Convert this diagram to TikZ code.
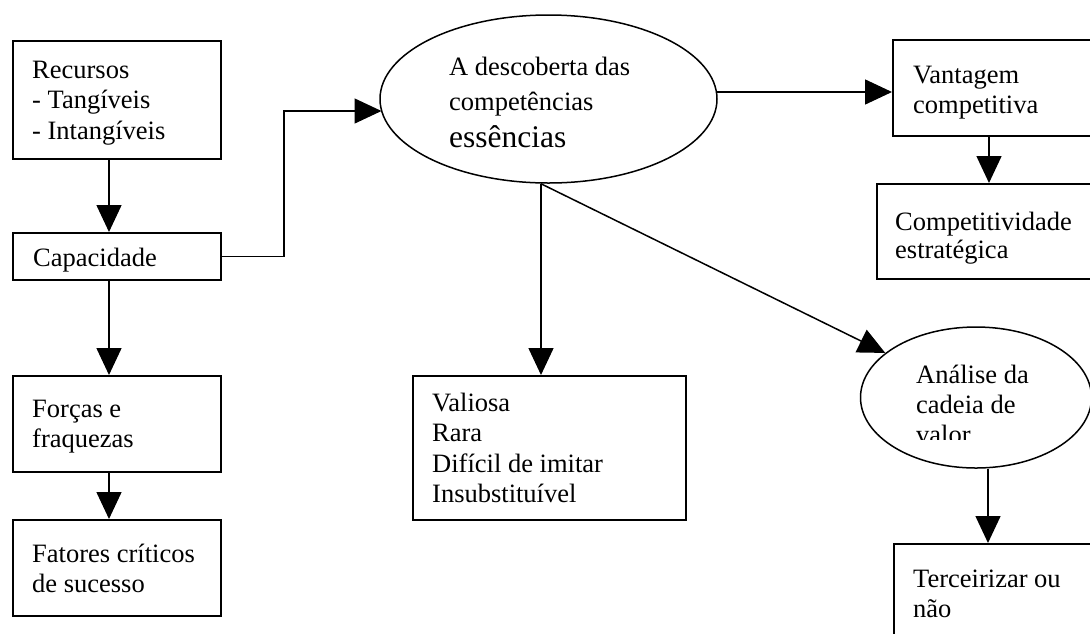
\documentclass[tikz,border=0pt]{standalone}
\usepackage{fontspec}
\setmainfont{Liberation Serif}
\usetikzlibrary{shapes.geometric,arrows.meta}
\newcommand\mylines[1]{\begin{tabular}[t]{@{}l@{}}#1\end{tabular}}
\begin{document}
\begin{tikzpicture}[x=1pt,y=-1pt,
  box/.style={draw,line width=1.5pt,rectangle,anchor=north west,inner sep=0pt},
  oval/.style={draw,line width=1.5pt,ellipse,inner sep=0pt},
  txt/.style={inner sep=0pt,anchor=base west,font=\fontsize{26.5}{30.5}\selectfont},
  arr/.style={line width=1.5pt,-{Triangle[length=27pt,width=25pt]}}]
\path[use as bounding box,clip] (0,0) rectangle (1090,633);
\fill[white] (0,0) rectangle (1090,633);
% boxes
\node[box,minimum width=208,minimum height=118] (rec) at (12,40) {};
\node[box,minimum width=208,minimum height=47] (cap) at (12,232) {};
\node[box,minimum width=208,minimum height=96] (forc) at (12,375) {};
\node[box,minimum width=208,minimum height=96] (fat) at (12,519) {};
\node[box,minimum width=273,minimum height=144] (val) at (412,375) {};
\node[box,minimum width=220,minimum height=96] (vant) at (892,39) {};
\node[box,minimum width=236,minimum height=95] (comp) at (876,183) {};
\node[box,minimum width=220,minimum height=160] (terc) at (893,543) {};
\node[oval,minimum width=337,minimum height=168] (ell1) at (548.5,99) {};
\node[oval,minimum width=231,minimum height=141] (ell2) at (976,397.5) {};
% texts
\node[txt] (trec) at (32,78) {\mylines{Recursos\\- Tangíveis\\- Intangíveis}};
\node[txt] (tcap) at (33,266) {Capacidade};
\node[txt] (tforc) at (32,417) {\mylines{Forças e\\fraquezas}};
\node[txt] (tfat) at (32,562) {\mylines{Fatores críticos\\de sucesso}};
\node[txt] (tval) at (432,411) {\mylines{Valiosa\\Rara\\Difícil de imitar\\Insubstituível}};
\node[txt] (tvant) at (913,83) {\mylines{Vantagem\\competitiva}};
\node[txt] (tcomp1) at (895,230) {Competitividade};
\node[txt] (tcomp2) at (895,258) {estratégica};
\node[txt] (te1a) at (449,75) {A descoberta das};
\node[txt] (te1b) at (449,110) {competências};
\node[txt,font=\fontsize{31.5}{36}\selectfont] (te1c) at (449,147) {essências};
\node[txt] (te2a) at (916,383) {Análise da};
\node[txt] (te2b) at (916,413) {cadeia de};
\begin{scope}
\clip (900,300) rectangle (1090,439);
\node[txt] (te2c) at (916,443) {valor};
\end{scope}
\node[txt] (tterc) at (913,587) {\mylines{Terceirizar ou\\não}};
% helper coordinates
\coordinate (xl) at (109,0);
\coordinate (xv) at (989,0);
\coordinate (xm) at (541,0);
\coordinate (xt) at (988,0);
\coordinate (bend) at (284,111);
\coordinate (e1in) at (381.5,111);
\coordinate (e1out) at (716.4,92);
\coordinate (vin) at (892,92);
% connectors
\draw[arr] (rec.south -| xl) -- (cap.north -| xl);
\draw[arr] (cap.south -| xl) -- (forc.north -| xl);
\draw[arr] (forc.south -| xl) -- (fat.north -| xl);
\draw[arr] (cap.east) -| (bend) -- (e1in);
\draw[arr] (e1out) -- (vin);
\draw[arr] (vant.south -| xv) -- (comp.north -| xv);
\draw[arr] (ell1.south -| xm) -- (val.north -| xm);
\draw[arr] (ell1.south -| xm) -- (ell2);
\draw[arr] (ell2.south -| xt) -- (terc.north -| xt);
\end{tikzpicture}
\end{document}
